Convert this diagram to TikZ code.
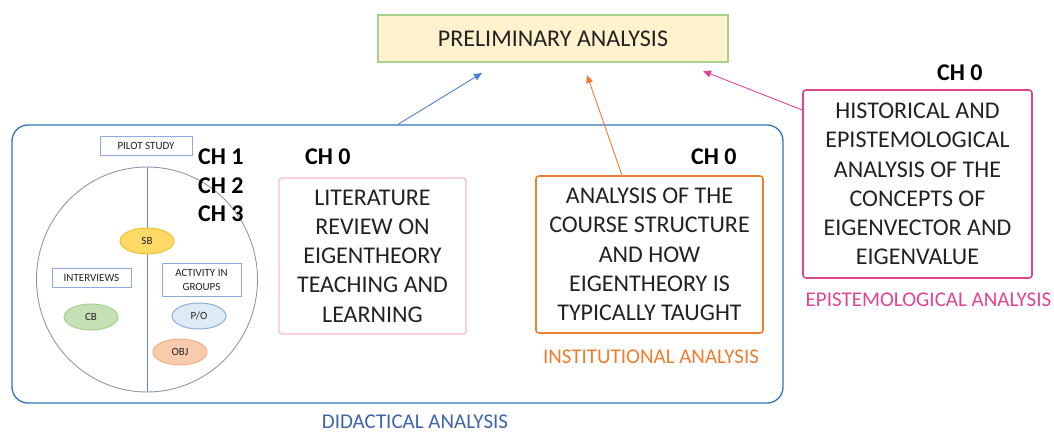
\documentclass[tikz,border=0pt]{standalone}
\usepackage{fontspec}
\setmainfont{Carlito}
\usetikzlibrary{arrows.meta,shapes.geometric,calc}

\definecolor{txt}{HTML}{222222}
\definecolor{prefill}{HTML}{FFF2CC}
\definecolor{predraw}{HTML}{A9D18E}
\definecolor{didblue}{HTML}{2E75B6}
\definecolor{didtext}{HTML}{3E64AA}
\definecolor{arrblue}{HTML}{4F7FD0}
\definecolor{instor}{HTML}{ED7D31}
\definecolor{epipink}{HTML}{E2458F}
\definecolor{litpink}{HTML}{F5BDD0}
\definecolor{circgray}{HTML}{8D96AA}
\definecolor{axisblue}{HTML}{5B8BD0}
\definecolor{smallbox}{HTML}{8FAADC}
\definecolor{sbfill}{HTML}{FFD966}
\definecolor{sbdraw}{HTML}{F2C12E}
\definecolor{cbfill}{HTML}{C5E0B4}
\definecolor{cbdraw}{HTML}{A9D18E}
\definecolor{pofill}{HTML}{DEEBF7}
\definecolor{podraw}{HTML}{8FAADC}
\definecolor{objfill}{HTML}{F8CBAD}
\definecolor{objdraw}{HTML}{F4B183}

\tikzset{
  bigtext/.style={font=\fontsize{24}{29.3}\selectfont, text=txt, align=center},
  chlabel/.style={font=\fontsize{24}{29}\selectfont\bfseries, text=black, anchor=west, inner sep=0pt},
  tinytext/.style={font=\fontsize{11}{13}\selectfont, text=txt, align=center},
  analysisbox/.style={bigtext, draw, line width=1.6pt, rounded corners=3pt, inner sep=0pt},
  smalllabel/.style={tinytext, draw=smallbox, line width=0.9pt, inner sep=0pt},
  blob/.style={tinytext, ellipse, line width=1pt, minimum width=54pt, minimum height=26pt, inner sep=0pt},
  caption/.style={font=\fontsize{21}{25}\selectfont, inner sep=0pt},
  linkarrow/.style={line width=0.9pt, -{Triangle[length=8pt,width=7pt]}},
}

\begin{document}
\begin{tikzpicture}[x=1pt,y=-1pt]
\useasboundingbox (0,0) rectangle (1054,432);

% top box
\node[bigtext, draw=predraw, fill=prefill, line width=1.2pt,
      minimum width=350pt, minimum height=47pt, inner sep=0pt]
  (prelim) at (553,38.5) {PRELIMINARY ANALYSIS};

% didactical analysis frame
\node[draw=didblue, line width=1.3pt, rounded corners=16pt,
      minimum width=771pt, minimum height=278pt, inner sep=0pt]
  (didactic) at (397.5,264) {};
\node[caption, text=didtext] (didlabel) at (415,422) {DIDACTICAL ANALYSIS};

% pilot study diagram
\node[smalllabel, minimum width=92pt, minimum height=19pt] (pilot) at (146,145.5) {PILOT STUDY};
\node[draw=circgray, line width=0.9pt, ellipse, minimum width=221pt, minimum height=225pt, inner sep=0pt]
  (circ) at (147,279.5) {};
\draw[axisblue, line width=0.9pt] (circ.north) -- (circ.south);
\node[blob, fill=sbfill, draw=sbdraw] (sb) at (147,241) {SB};
\node[smalllabel, minimum width=79pt, minimum height=19pt] (interviews) at (91.5,277.5) {INTERVIEWS};
\node[smalllabel, minimum width=79pt, minimum height=33pt, font=\fontsize{11}{14}\selectfont]
  (activity) at (201.5,279.5) {ACTIVITY IN\\GROUPS};
\node[blob, fill=cbfill, draw=cbdraw] (cb) at (91,317) {CB};
\node[blob, fill=pofill, draw=podraw] (po) at (199,316) {P/O};
\node[blob, fill=objfill, draw=objdraw] (obj) at (180,352) {OBJ};

\node[chlabel] (ch1) at (198,157) {CH 1};
\node[chlabel] (ch2) at (198,186) {CH 2};
\node[chlabel] (ch3) at (198,214) {CH 3};

% literature review
\node[chlabel] (chlit) at (305,157) {CH 0};
\node[analysisbox, draw=litpink, line width=1.4pt, minimum width=187pt, minimum height=156pt]
  (lit) at (372.5,256) {LITERATURE\\REVIEW ON\\EIGENTHEORY\\TEACHING AND\\LEARNING};

% institutional analysis
\node[chlabel] (chinst) at (691,157) {CH 0};
\node[analysisbox, draw=instor, minimum width=227pt, minimum height=157pt]
  (inst) at (649.5,254.5) {ANALYSIS OF THE\\COURSE STRUCTURE\\AND HOW\\EIGENTHEORY IS\\TYPICALLY TAUGHT};
\node[caption, text=instor] (instlabel) at (651,357) {INSTITUTIONAL ANALYSIS};

% epistemological analysis
\node[chlabel] (chepi) at (937,73) {CH 0};
\node[analysisbox, draw=epipink, minimum width=229pt, minimum height=188pt]
  (epi) at (917.5,184) {HISTORICAL AND\\EPISTEMOLOGICAL\\ANALYSIS OF THE\\CONCEPTS OF\\EIGENVECTOR AND\\EIGENVALUE};
\node[caption, text=epipink] (epilabel) at (928.5,300) {EPISTEMOLOGICAL ANALYSIS};

% arrows into the preliminary analysis
\coordinate (tipdid) at (482,73);
\coordinate (tipinst) at (587,75);
\coordinate (tipepi) at (703,71);
\draw[linkarrow, arrblue] (didactic.north west -| 398,0) -- (tipdid);
\draw[linkarrow, instor] (inst.north west -| 622,0) -- (tipinst);
\draw[linkarrow, epipink] (epi.north west |- 0,110) -- (tipepi);
\end{tikzpicture}
\end{document}
